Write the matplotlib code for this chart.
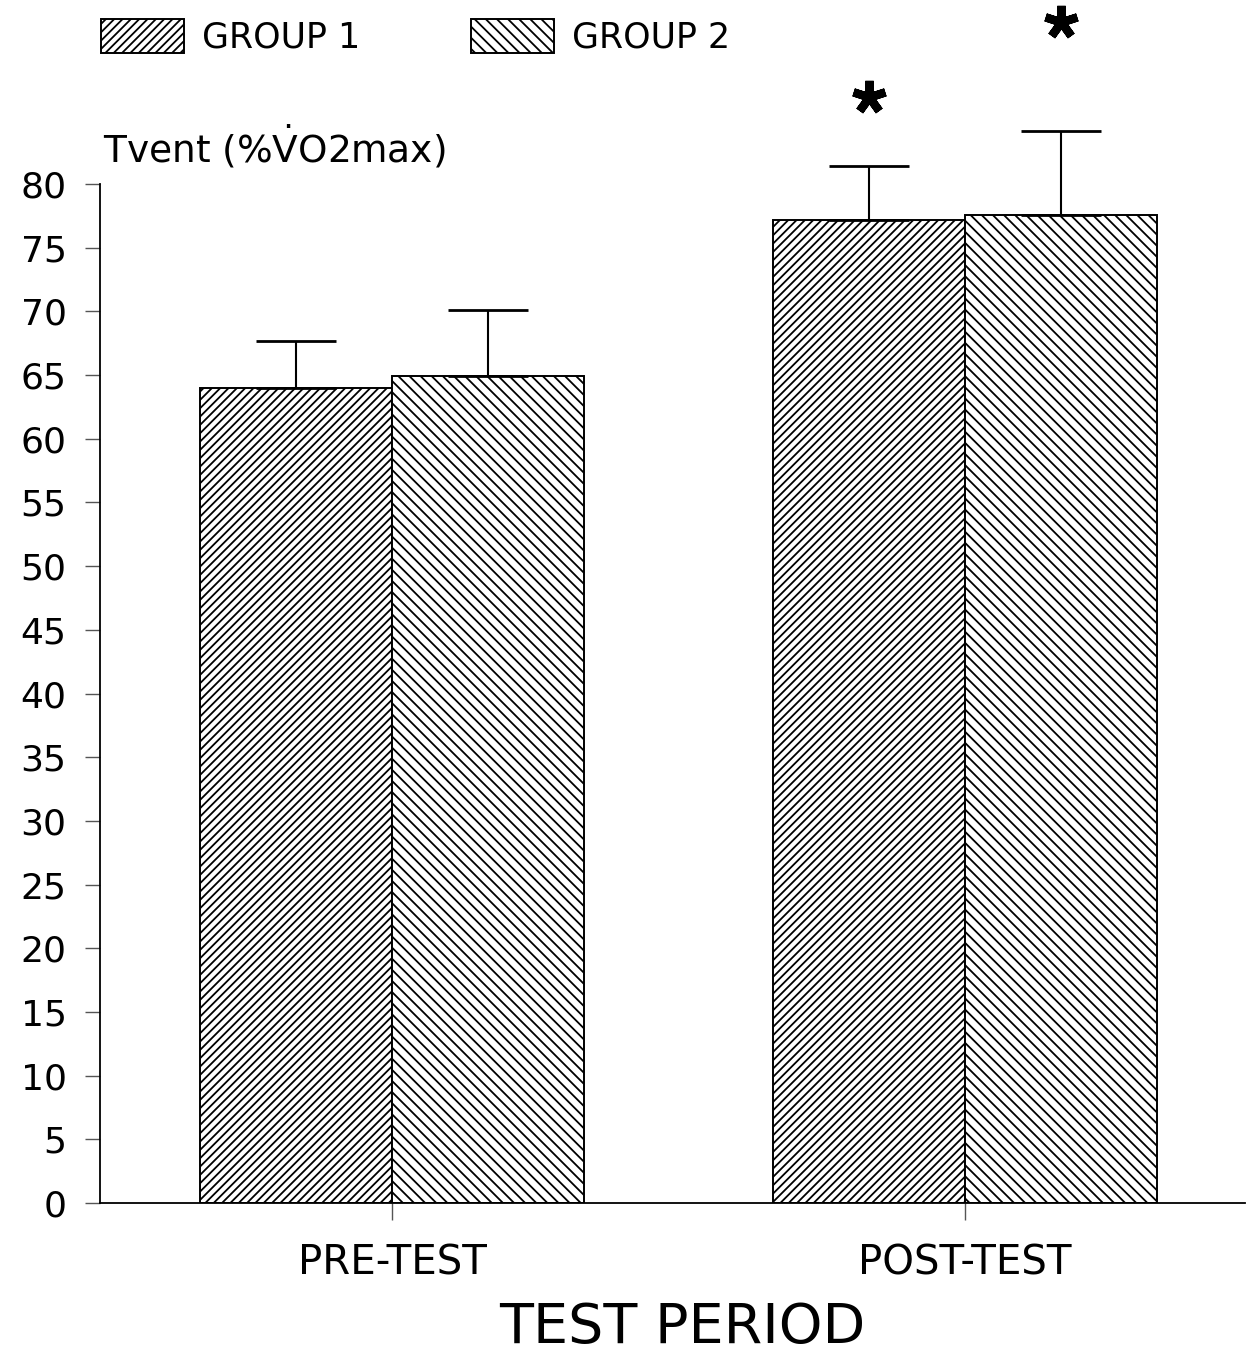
import matplotlib
matplotlib.use('Agg')
import matplotlib.pyplot as plt
import numpy as np

plt.rcParams['font.family'] = ['DejaVu Sans']
plt.rcParams['mathtext.fontset'] = 'dejavusans'
plt.rcParams['hatch.linewidth'] = 1.3

# data
periods = ['PRE-TEST', 'POST-TEST']
groups = ['GROUP 1', 'GROUP 2']
group1_mean = [64.0, 77.2]
group2_mean = [64.9, 77.6]
group1_err = [3.7, 4.2]
group2_err = [5.2, 6.6]
# significance marks (post-test only)
sig_y = [86.8, 92.7]

W, H = 1247, 1357
fig = plt.figure(figsize=(W / 100, H / 100), dpi=100)
ax = fig.add_axes([100 / W, 1 - 1203 / H, (1245 - 100) / W, (1203 - 184) / H])

x = np.arange(len(periods))
w = 0.335

ax.bar(x - w / 2, group1_mean, w, color='white', edgecolor='black',
       hatch='////', linewidth=1.4, label=groups[0])
ax.bar(x + w / 2, group2_mean, w, color='white', edgecolor='black',
       hatch='\\\\\\', linewidth=1.4, label=groups[1])

for xs, m, e in [(x - w / 2, group1_mean, group1_err),
                 (x + w / 2, group2_mean, group2_err)]:
    eb = ax.errorbar(xs, m, yerr=[np.zeros(2), e], fmt='none',
                     ecolor='black', elinewidth=1.5, capsize=29, capthick=2)
    for art in eb.lines[1] + eb.lines[2]:
        art.set_clip_on(False)

# asterisks over post-test bars
ax.plot([1 - w / 2, 1 + w / 2], sig_y, linestyle='none', marker=(5, 2, 0),
        markersize=24, markeredgewidth=6, color='black', clip_on=False)

ax.set_xlim(-0.5096, 1.4887)
ax.set_ylim(0, 80)
ax.set_yticks(np.arange(0, 81, 5))
ax.set_xticks(x)
ax.set_xticklabels(periods)

for s in ['top', 'right']:
    ax.spines[s].set_visible(False)
for s in ['left', 'bottom']:
    ax.spines[s].set_linewidth(1.3)

ax.tick_params(axis='y', direction='out', length=11, width=1, color='#555555',
               labelsize=26, pad=13)
ax.tick_params(axis='x', direction='out', length=12, width=1, color='#555555',
               labelsize=29, pad=17)

leg = ax.legend(loc='lower left', ncol=2, frameon=False,
                fontsize=25, handlelength=2.4, handleheight=1.15,
                handletextpad=0.5, columnspacing=3.2, borderaxespad=0,
                borderpad=0)
leg.set_bbox_to_anchor((101 / W, 1 - 55 / H), transform=fig.transFigure)

fig.text(103 / W, 1 - 163 / H, r'Tvent (%$\dot{\mathrm{V}}$O2max)', fontsize=27,
         ha='left', va='baseline')
fig.text(682 / W, 1 - 1343 / H, 'TEST PERIOD', fontsize=40,
         ha='center', va='baseline')

fig.savefig('out.png', dpi=100)
